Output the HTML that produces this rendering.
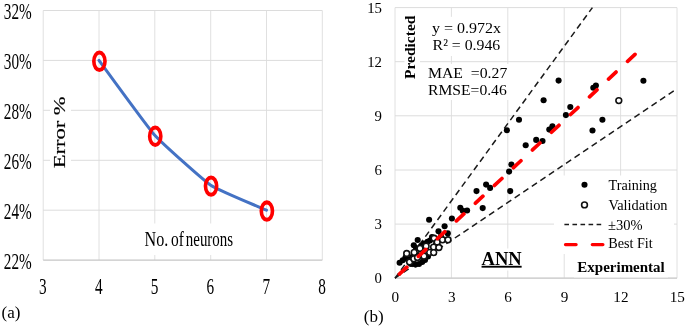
<!DOCTYPE html>
<html lang="en"><head><meta charset="utf-8"><title>Figure</title>
<style>
html,body{margin:0;padding:0;background:#fff;}
body{width:685px;height:328px;overflow:hidden;}
svg{display:block;will-change:transform;}
text{font-family:"Liberation Serif", "DejaVu Serif", serif;fill:#000;}
</style></head><body>
<svg width="685" height="328" viewBox="0 0 685 328">
<rect x="0" y="0" width="685" height="328" fill="#fff"/>
<g stroke="#e0e0e0" stroke-width="1" fill="none">
<line x1="43.2" y1="10.5" x2="43.2" y2="260.1"/>
<line x1="99.0" y1="10.5" x2="99.0" y2="260.1"/>
<line x1="154.8" y1="10.5" x2="154.8" y2="260.1"/>
<line x1="210.7" y1="10.5" x2="210.7" y2="260.1"/>
<line x1="266.5" y1="10.5" x2="266.5" y2="260.1"/>
<line x1="322.3" y1="10.5" x2="322.3" y2="260.1"/>
</g>
<g stroke="#dcdcdc" stroke-width="1" fill="none">
<line x1="43.2" y1="210.2" x2="322.3" y2="210.2"/>
<line x1="43.2" y1="160.3" x2="322.3" y2="160.3"/>
<line x1="43.2" y1="110.3" x2="322.3" y2="110.3"/>
<line x1="43.2" y1="60.4" x2="322.3" y2="60.4"/>
<line x1="43.2" y1="10.5" x2="322.3" y2="10.5"/>
</g>
<line x1="43.2" y1="260.1" x2="322.3" y2="260.1" stroke="#c6c6c6" stroke-width="1.3"/>
<rect x="50" y="92" width="21" height="80" fill="#fff"/>
<rect x="140" y="223.5" width="97" height="31.5" fill="#fff"/>
<text transform="translate(31.7,268.6) scale(0.64,1)" font-size="23.8" text-anchor="end">22%</text>
<text transform="translate(31.7,218.7) scale(0.64,1)" font-size="23.8" text-anchor="end">24%</text>
<text transform="translate(31.7,168.8) scale(0.64,1)" font-size="23.8" text-anchor="end">26%</text>
<text transform="translate(31.7,118.8) scale(0.64,1)" font-size="23.8" text-anchor="end">28%</text>
<text transform="translate(31.7,68.9) scale(0.64,1)" font-size="23.8" text-anchor="end">30%</text>
<text transform="translate(31.7,19.0) scale(0.64,1)" font-size="23.8" text-anchor="end">32%</text>
<text transform="translate(42.9,293.8) scale(0.64,1)" font-size="23.8" text-anchor="middle">3</text>
<text transform="translate(98.7,293.8) scale(0.64,1)" font-size="23.8" text-anchor="middle">4</text>
<text transform="translate(154.5,293.8) scale(0.64,1)" font-size="23.8" text-anchor="middle">5</text>
<text transform="translate(210.4,293.8) scale(0.64,1)" font-size="23.8" text-anchor="middle">6</text>
<text transform="translate(266.2,293.8) scale(0.64,1)" font-size="23.8" text-anchor="middle">7</text>
<text transform="translate(322.0,293.8) scale(0.64,1)" font-size="23.8" text-anchor="middle">8</text>
<text transform="translate(144.6,246.4) scale(0.74,1)" font-size="21.8">No.</text>
<text transform="translate(171.0,246.4) scale(0.71,1)" font-size="21.8">of</text>
<text transform="translate(185.8,246.4) scale(0.685,1)" font-size="21.8">neurons</text>
<text transform="translate(65.0,132.4) scale(0.70,1) rotate(-90)" font-size="22.5" stroke="#000" stroke-width="0.2" text-anchor="middle">Error %</text>
<path d="M99.0,60.4 C102.7,65.4 147.4,127.0 154.8,135.3 C162.3,143.6 203.2,180.2 210.7,185.2 C218.1,190.2 262.8,208.5 266.5,210.2" fill="none" stroke="#4472c4" stroke-width="3" stroke-linecap="round"/>
<path d="M92.02,61.32a7.4,10.7 0 1,0 14.8,0a7.4,10.7 0 1,0 -14.8,0zM95.67,61.32a3.75,6.7 0 1,0 7.5,0a3.75,6.7 0 1,0 -7.5,0z" fill="#ff0000" fill-rule="evenodd"/>
<path d="M147.84,136.20a7.4,10.7 0 1,0 14.8,0a7.4,10.7 0 1,0 -14.8,0zM151.49,136.20a3.75,6.7 0 1,0 7.5,0a3.75,6.7 0 1,0 -7.5,0z" fill="#ff0000" fill-rule="evenodd"/>
<path d="M203.66,186.12a7.4,10.7 0 1,0 14.8,0a7.4,10.7 0 1,0 -14.8,0zM207.31,186.12a3.75,6.7 0 1,0 7.5,0a3.75,6.7 0 1,0 -7.5,0z" fill="#ff0000" fill-rule="evenodd"/>
<path d="M259.48,211.08a7.4,10.7 0 1,0 14.8,0a7.4,10.7 0 1,0 -14.8,0zM263.13,211.08a3.75,6.7 0 1,0 7.5,0a3.75,6.7 0 1,0 -7.5,0z" fill="#ff0000" fill-rule="evenodd"/>
<text x="1.5" y="318" font-size="17">(a)</text>
<g stroke="#e0e0e0" stroke-width="1" fill="none">
<line x1="395.0" y1="7.6" x2="395.0" y2="278.2"/>
<line x1="451.4" y1="7.6" x2="451.4" y2="278.2"/>
<line x1="507.8" y1="7.6" x2="507.8" y2="278.2"/>
<line x1="564.2" y1="7.6" x2="564.2" y2="278.2"/>
<line x1="620.6" y1="7.6" x2="620.6" y2="278.2"/>
<line x1="677.0" y1="7.6" x2="677.0" y2="278.2"/>
</g>
<g stroke="#dcdcdc" stroke-width="1" fill="none">
<line x1="395.0" y1="278.2" x2="677.0" y2="278.2"/>
<line x1="395.0" y1="224.1" x2="677.0" y2="224.1"/>
<line x1="395.0" y1="170.0" x2="677.0" y2="170.0"/>
<line x1="395.0" y1="115.8" x2="677.0" y2="115.8"/>
<line x1="395.0" y1="61.7" x2="677.0" y2="61.7"/>
<line x1="395.0" y1="7.6" x2="677.0" y2="7.6"/>
</g>
<line x1="395.0" y1="278.2" x2="677.0" y2="278.2" stroke="#cccccc" stroke-width="1.3"/>
<rect x="404.5" y="12" width="15.5" height="70" fill="#fff"/>
<rect x="427" y="16.8" width="79" height="39.2" fill="#fff"/>
<rect x="426" y="64" width="84" height="36" fill="#fff"/>
<rect x="554" y="175.5" width="120" height="78.5" fill="#fff"/>
<rect x="574" y="253.5" width="94" height="23.9" fill="#fff"/>
<rect x="478" y="248.5" width="47" height="22" fill="#fff"/>
<text x="382.0" y="283.2" font-size="14.8" text-anchor="end">0</text>
<text x="395.3" y="301.5" font-size="15.2" text-anchor="middle">0</text>
<text x="382.0" y="229.1" font-size="14.8" text-anchor="end">3</text>
<text x="451.7" y="301.5" font-size="15.2" text-anchor="middle">3</text>
<text x="382.0" y="175.0" font-size="14.8" text-anchor="end">6</text>
<text x="508.1" y="301.5" font-size="15.2" text-anchor="middle">6</text>
<text x="382.0" y="120.8" font-size="14.8" text-anchor="end">9</text>
<text x="564.5" y="301.5" font-size="15.2" text-anchor="middle">9</text>
<text x="382.0" y="66.7" font-size="14.8" text-anchor="end">12</text>
<text x="620.9" y="301.5" font-size="15.2" text-anchor="middle">12</text>
<text x="382.0" y="12.6" font-size="14.8" text-anchor="end">15</text>
<text x="677.3" y="301.5" font-size="15.2" text-anchor="middle">15</text>
<g stroke="#1a1a1a" stroke-width="1.5" fill="none" stroke-dasharray="6.2 4.1">
<line x1="395.0" y1="278.2" x2="592.4" y2="7.6"/>
<line x1="395.0" y1="278.2" x2="677.0" y2="88.8"/>
</g>
<g fill="#000">
<circle cx="558.6" cy="80.6" r="3.05"/>
<circle cx="543.6" cy="100.3" r="3.05"/>
<circle cx="595.9" cy="85.6" r="3.05"/>
<circle cx="593.3" cy="87.8" r="3.05"/>
<circle cx="570.3" cy="107" r="3.05"/>
<circle cx="643.4" cy="80.7" r="3.05"/>
<circle cx="565.9" cy="115.1" r="3.05"/>
<circle cx="519" cy="119.8" r="3.05"/>
<circle cx="602.4" cy="119.7" r="3.05"/>
<circle cx="552.4" cy="126.2" r="3.05"/>
<circle cx="549.3" cy="129.6" r="3.05"/>
<circle cx="592.5" cy="130.5" r="3.05"/>
<circle cx="536.2" cy="139.9" r="3.05"/>
<circle cx="542.5" cy="141" r="3.05"/>
<circle cx="525.7" cy="145.3" r="3.05"/>
<circle cx="506.9" cy="130.2" r="3.05"/>
<circle cx="511.4" cy="164.5" r="3.05"/>
<circle cx="509.1" cy="171.6" r="3.05"/>
<circle cx="486.1" cy="184.6" r="3.05"/>
<circle cx="490.1" cy="187.9" r="3.05"/>
<circle cx="476.5" cy="191.1" r="3.05"/>
<circle cx="510.2" cy="191.1" r="3.05"/>
<circle cx="482.7" cy="208.1" r="3.05"/>
<circle cx="460.3" cy="207.8" r="3.05"/>
<circle cx="462.8" cy="210.7" r="3.05"/>
<circle cx="467.1" cy="210.5" r="3.05"/>
<circle cx="451.9" cy="218.5" r="3.05"/>
<circle cx="429.1" cy="219.8" r="3.05"/>
<circle cx="444.6" cy="226.3" r="3.05"/>
<circle cx="438.5" cy="231.2" r="3.05"/>
<circle cx="447.8" cy="233.4" r="3.05"/>
<circle cx="417.7" cy="240" r="3.05"/>
<circle cx="413.8" cy="245.3" r="3.05"/>
<circle cx="427.5" cy="241.8" r="3.05"/>
<circle cx="430" cy="240.5" r="3.05"/>
<circle cx="424" cy="243.5" r="3.05"/>
<circle cx="421" cy="246" r="3.05"/>
<circle cx="432" cy="237" r="3.05"/>
<circle cx="416" cy="248" r="3.05"/>
<circle cx="399.6" cy="262.8" r="3.05"/>
<circle cx="402.7" cy="260.2" r="3.05"/>
<circle cx="405.5" cy="257.5" r="3.05"/>
<circle cx="422.2" cy="262" r="3.05"/>
<circle cx="419" cy="264" r="3.05"/>
<circle cx="425" cy="260" r="3.05"/>
<circle cx="415.5" cy="264.6" r="3.05"/>
<circle cx="412" cy="257" r="3.05"/>
<circle cx="408" cy="259.5" r="3.05"/>
<circle cx="418" cy="255" r="3.05"/>
<circle cx="428" cy="256.5" r="3.05"/>
<circle cx="411" cy="264" r="3.05"/>
<circle cx="436" cy="244" r="3.05"/>
<circle cx="441" cy="236" r="3.05"/>
<circle cx="423" cy="251" r="3.05"/>
</g>
<g fill="#fff" stroke="#111" stroke-width="1.6">
<circle cx="618.8" cy="100.6" r="2.9"/>
<circle cx="434.1" cy="238.3" r="2.9"/>
<circle cx="437.2" cy="242.2" r="2.9"/>
<circle cx="442.5" cy="239.8" r="2.9"/>
<circle cx="448" cy="239.8" r="2.9"/>
<circle cx="433.6" cy="247.1" r="2.9"/>
<circle cx="438.9" cy="247.5" r="2.9"/>
<circle cx="426.1" cy="246.2" r="2.9"/>
<circle cx="420" cy="248.4" r="2.9"/>
<circle cx="406.7" cy="253.5" r="2.9"/>
<circle cx="414.2" cy="252.4" r="2.9"/>
<circle cx="429.7" cy="252.4" r="2.9"/>
<circle cx="409.6" cy="262" r="2.9"/>
<circle cx="413.8" cy="258.8" r="2.9"/>
<circle cx="424" cy="256.2" r="2.9"/>
<circle cx="433.7" cy="252.6" r="2.9"/>
<circle cx="417.5" cy="257.5" r="2.9"/>
</g>
<line x1="395.0" y1="278.2" x2="638.5" y2="51.1" stroke="#ff0000" stroke-width="3.7" stroke-linecap="round" stroke-dasharray="10.2 15.8" stroke-dashoffset="-6.0"/>
<text transform="translate(432.0,33.0) scale(1.055,1)" font-size="15.2">y = 0.972x</text>
<text transform="translate(432.6,50.3) scale(1.04,1)" font-size="15.2">R² = 0.946</text>
<text transform="translate(428.0,77.9) scale(1.03,1)" font-size="15.3" xml:space="preserve">MAE  =0.27</text>
<text transform="translate(428.0,94.8) scale(1.05,1)" font-size="14.9">RMSE=0.46</text>
<text transform="translate(415.2,47.3) rotate(-90)" font-size="15.5" font-weight="bold" text-anchor="middle">Predicted</text>
<text x="501.6" y="264.8" font-size="18.5" font-weight="bold" text-anchor="middle" text-decoration="underline">ANN</text>
<text x="577.3" y="271.6" font-size="15" font-weight="bold">Experimental</text>
<circle cx="584.5" cy="184.8" r="3.05" fill="#000"/>
<circle cx="584.5" cy="204.9" r="2.9" fill="#fff" stroke="#111" stroke-width="1.6"/>
<line x1="564.4" y1="224.4" x2="601.3" y2="224.4" stroke="#1a1a1a" stroke-width="1.5" stroke-dasharray="4.6 3.45"/>
<line x1="565.5" y1="244.6" x2="603" y2="244.6" stroke="#ff0000" stroke-width="3.3" stroke-linecap="round" stroke-dasharray="10.6 16.2"/>
<text x="608.6" y="189.6" font-size="14.2">Training</text>
<text x="608.4" y="209.6" font-size="14.4">Validation</text>
<text x="608" y="229.6" font-size="14.5">±30%</text>
<text x="608.2" y="248.4" font-size="14.2">Best Fit</text>
<text x="363.8" y="321.7" font-size="17">(b)</text>
</svg></body></html>
